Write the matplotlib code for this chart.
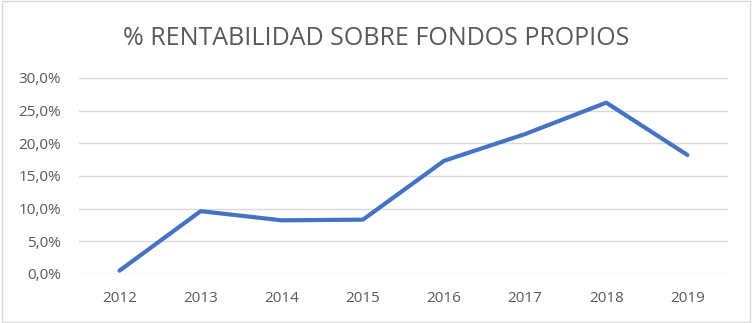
import matplotlib.pyplot as plt
from matplotlib.ticker import FuncFormatter
from matplotlib.patches import Rectangle

plt.rcParams['font.family'] = ['Open Sans', 'DejaVu Sans']

# Rentabilidad sobre fondos propios por año
years = ['2012', '2013', '2014', '2015', '2016', '2017', '2018', '2019']
roe = [0.005, 0.096, 0.082, 0.083, 0.173, 0.214, 0.262, 0.182]

fig = plt.figure(figsize=(7.52, 3.23), dpi=100)
ax = fig.add_axes([0.105, 0.152, 0.863, 0.607])

x = range(len(years))
ax.plot(x, roe, color='#4472C4', linewidth=3, solid_capstyle='round', solid_joinstyle='round', zorder=3)

ax.set_xlim(-0.5, len(years) - 0.5)
ax.set_ylim(0, 0.30)
ax.set_yticks([0, 0.05, 0.10, 0.15, 0.20, 0.25, 0.30])
ax.yaxis.set_major_formatter(FuncFormatter(lambda v, p: f'{v*100:.1f}%'.replace('.', ',')))
ax.set_xticks(list(x))
ax.set_xticklabels(years)

ax.grid(axis='y', color='#D9D9D9', linewidth=1)
ax.set_axisbelow(True)
for s in ax.spines.values():
    s.set_visible(False)
ax.tick_params(length=0, colors='#595959', labelsize=11)
ax.tick_params(axis='y', pad=13)
ax.tick_params(axis='x', pad=12)

fig.text(0.5, 0.882, '% RENTABILIDAD SOBRE FONDOS PROPIOS', ha='center', va='center',
         fontsize=18, color='#595959')

# marco del gráfico
fig.patches.append(Rectangle((0.002, 0.003), 0.996, 0.994, transform=fig.transFigure,
                             fill=False, edgecolor='#D9D9D9', linewidth=1))

plt.savefig('out.png', dpi=100)
